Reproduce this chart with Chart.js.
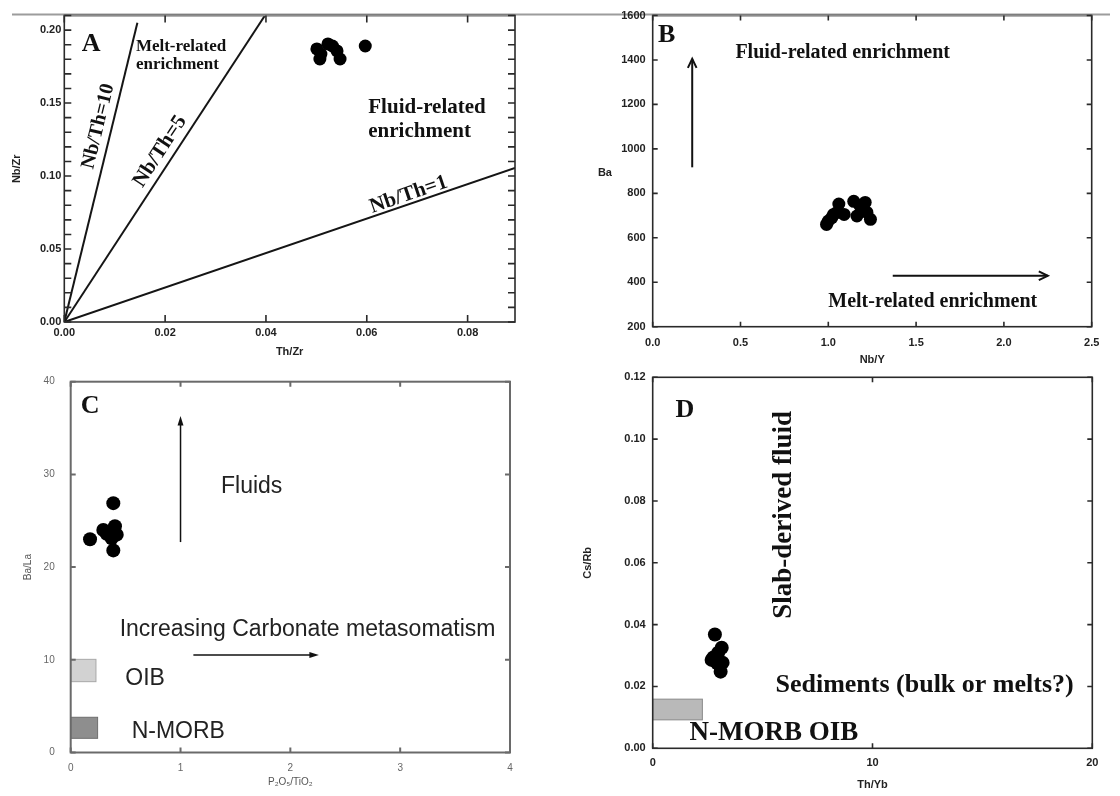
<!DOCTYPE html>
<html>
<head>
<meta charset="utf-8">
<title>Trace element enrichment diagrams</title>
<script src="https://cdn.jsdelivr.net/npm/chart.js@4.4.1/dist/chart.umd.min.js"></script>
<style>
  html, body { margin: 0; padding: 0; background: #fff; }
  #wrap { position: relative; width: 1120px; height: 796px; overflow: hidden; background: #fff; }
  canvas { position: absolute; display: block; }
</style>
</head>
<body>
<div id="wrap">
  <canvas id="chartA" width="560" height="370" style="left:0;top:0"></canvas>
  <canvas id="chartB" width="560" height="370" style="left:560px;top:0"></canvas>
  <canvas id="chartC" width="560" height="426" style="left:0;top:370px"></canvas>
  <canvas id="chartD" width="560" height="426" style="left:560px;top:370px"></canvas>
</div>
<script>
// ---------- Panel A: Th/Zr vs Nb/Zr ----------
const thZr = [0.0507, 0.0547, 0.0523, 0.0501, 0.0541, 0.0509, 0.0532, 0.0597];
const nbZr = [0.1802, 0.1802, 0.1905, 0.1871, 0.1857, 0.1836, 0.1891, 0.1891];
// Nb/Th reference lines drawn from the origin to these end points
const nbThNames = ['Nb/Th=10', 'Nb/Th=5', 'Nb/Th=1'];
const nbThEndX = [0.0145, 0.0398, 0.0894];
const nbThEndY = [0.205, 0.21, 0.1055];

// ---------- Panel B: Nb/Y vs Ba ----------
const nbY = [0.99, 1.02, 1.05, 1.06, 1.03, 1.00, 1.09, 1.145, 1.163, 1.21, 1.22, 1.24, 1.18];
const ba  = [660, 691, 714, 752, 705, 675, 705, 764, 698, 759, 714, 683, 744];

// ---------- Panel C: P2O5/TiO2 vs Ba/La ----------
const p2o5TiO2 = [0.388, 0.176, 0.297, 0.403, 0.373, 0.388, 0.328, 0.419];
const baLa     = [26.9, 23.0, 24.0, 24.4, 23.1, 21.8, 23.6, 23.5];
// reference fields (x range, y range)
const fieldNamesC = ['OIB', 'N-MORB'];
const fieldXminC = [0, 0];
const fieldXmaxC = [0.23, 0.245];
const fieldYminC = [7.64, 1.53];
const fieldYmaxC = [10.05, 3.8];

// ---------- Panel D: Th/Yb vs Cs/Rb ----------
const thYb = [2.83, 3.14, 2.76, 2.94, 3.09, 3.18, 2.98, 2.68];
const csRb = [0.0368, 0.0325, 0.0294, 0.0275, 0.0248, 0.0277, 0.0309, 0.0286];
const fieldXminD = [0];
const fieldXmaxD = [2.26];
const fieldYminD = [0.0092];
const fieldYmaxD = [0.0159];

const SANS = '"Liberation Sans", Arial, sans-serif';
const SERIF = '"Liberation Serif", "Times New Roman", serif';

const zip = (xs, ys) => xs.map((x, i) => ({ x, y: ys[i] }));

// Fixed axis thickness so that every plot area lands at a set place
function fixedAxis(size) {
  return function (scale) {
    if (scale.isHorizontal()) scale.height = size; else scale.width = size;
    scale.paddingLeft = scale.paddingRight = scale.paddingTop = scale.paddingBottom = 0;
  };
}

// Frame, inward tick marks, reference boxes, arrows and annotations
const decorPlugin = {
  id: 'decor',
  beforeDraw(chart, args, opts) {
    // rule along the top edge of the page, under the tick labels
    if (opts.rule) {
      const ctx = chart.ctx;
      ctx.save();
      ctx.strokeStyle = opts.rule.color;
      ctx.lineWidth = opts.rule.width;
      ctx.beginPath();
      ctx.moveTo(opts.rule.from, opts.rule.y);
      ctx.lineTo(opts.rule.to, opts.rule.y);
      ctx.stroke();
      ctx.restore();
    }
  },
  beforeDatasetsDraw(chart, args, opts) {
    const ctx = chart.ctx, xs = chart.scales.x, ys = chart.scales.y;
    (opts.boxes || []).forEach(b => {
      const x0 = xs.getPixelForValue(b.x0), x1 = xs.getPixelForValue(b.x1);
      const y0 = ys.getPixelForValue(b.y0), y1 = ys.getPixelForValue(b.y1);
      ctx.save();
      ctx.fillStyle = b.fill;
      ctx.strokeStyle = b.stroke;
      ctx.lineWidth = 1;
      ctx.fillRect(x0, y1, x1 - x0, y0 - y1);
      ctx.strokeRect(x0, y1, x1 - x0, y0 - y1);
      ctx.restore();
    });
  },
  afterDraw(chart, args, opts) {
    const ctx = chart.ctx, xs = chart.scales.x, ys = chart.scales.y;
    const { left, right, top, bottom } = chart.chartArea;
    ctx.save();
    // frame
    const f = opts.frame;
    ctx.strokeStyle = f.color;
    ctx.lineWidth = f.width;
    ctx.strokeRect(left, top, right - left, bottom - top);
    if (f.topColor) {
      ctx.strokeStyle = f.topColor;
      ctx.beginPath(); ctx.moveTo(left, top); ctx.lineTo(right, top); ctx.stroke();
      ctx.strokeStyle = f.color;
    }
    // tick marks pointing into the plot on all four sides
    const len = f.tick;
    ctx.beginPath();
    xs.ticks.forEach(t => {
      const px = xs.getPixelForValue(t.value);
      ctx.moveTo(px, bottom); ctx.lineTo(px, bottom - len);
      ctx.moveTo(px, top); ctx.lineTo(px, top + len);
    });
    const yVals = [];
    if (f.minorY) {
      const n = Math.round((ys.max - ys.min) / f.minorY);
      for (let i = 0; i <= n; i++) yVals.push(ys.min + i * f.minorY);
    } else {
      ys.ticks.forEach(t => yVals.push(t.value));
    }
    yVals.forEach(v => {
      const py = ys.getPixelForValue(v);
      if (py < top - 0.5) return;
      ctx.moveTo(left, py); ctx.lineTo(left + len, py);
      ctx.moveTo(right, py); ctx.lineTo(right - len, py);
    });
    ctx.stroke();
    // arrows
    (opts.arrows || []).forEach(a => {
      const x0 = xs.getPixelForValue(a.x0), y0 = ys.getPixelForValue(a.y0);
      const x1 = xs.getPixelForValue(a.x1), y1 = ys.getPixelForValue(a.y1);
      const ang = Math.atan2(y1 - y0, x1 - x0);
      ctx.strokeStyle = a.color; ctx.fillStyle = a.color;
      ctx.lineWidth = a.width;
      ctx.beginPath();
      ctx.moveTo(x0, y0);
      ctx.lineTo(x1 - (a.filled ? Math.cos(ang) * a.head * 0.8 : 0), y1 - (a.filled ? Math.sin(ang) * a.head * 0.8 : 0));
      ctx.stroke();
      const hx1 = x1 - a.head * Math.cos(ang - a.spread), hy1 = y1 - a.head * Math.sin(ang - a.spread);
      const hx2 = x1 - a.head * Math.cos(ang + a.spread), hy2 = y1 - a.head * Math.sin(ang + a.spread);
      ctx.beginPath();
      if (a.filled) {
        ctx.moveTo(x1, y1); ctx.lineTo(hx1, hy1); ctx.lineTo(hx2, hy2); ctx.closePath(); ctx.fill();
      } else {
        ctx.moveTo(hx1, hy1); ctx.lineTo(x1, y1); ctx.lineTo(hx2, hy2); ctx.stroke();
      }
    });
    // text annotations
    (opts.texts || []).forEach(t => {
      const px = xs.getPixelForValue(t.x), py = ys.getPixelForValue(t.y);
      let rot = (t.rotation || 0) * Math.PI / 180;
      if (t.alongLine !== undefined) {
        const d = chart.data.datasets[t.alongLine].data;
        const ax = xs.getPixelForValue(d[0].x), ay = ys.getPixelForValue(d[0].y);
        const bx = xs.getPixelForValue(d[1].x), by = ys.getPixelForValue(d[1].y);
        rot = Math.atan2(by - ay, bx - ax);
      }
      ctx.save();
      ctx.translate(px, py);
      ctx.rotate(rot);
      ctx.font = t.font;
      ctx.fillStyle = t.color || '#111';
      ctx.textAlign = t.align || 'center';
      ctx.textBaseline = 'middle';
      ctx.fillText(t.text, 0, 0);
      ctx.restore();
    });
    ctx.restore();
  }
};
Chart.register(decorPlugin);

function baseOptions(cfg) {
  return {
    responsive: false,
    animation: false,
    events: [],
    layout: { padding: cfg.padding },
    plugins: { legend: { display: false }, tooltip: { enabled: false }, decor: cfg.decor },
    scales: {
      x: {
        type: 'linear', position: 'bottom',
        min: cfg.x.min, max: cfg.x.max,
        border: { display: false },
        grid: { display: false, drawTicks: false },
        ticks: {
          stepSize: cfg.x.step, includeBounds: false, padding: cfg.x.pad,
          color: cfg.tickColor, font: cfg.tickFont,
          maxRotation: 0, autoSkip: false,
          callback: v => v.toFixed(cfg.x.dec)
        },
        title: cfg.x.title ? {
          display: true, text: cfg.x.title, color: cfg.titleColor, font: cfg.titleFont,
          padding: { top: 0, bottom: cfg.x.titlePad }
        } : { display: false },
        afterFit: fixedAxis(cfg.x.size)
      },
      y: {
        type: 'linear', position: 'left',
        min: cfg.y.min, max: cfg.y.max,
        border: { display: false },
        grid: { display: false, drawTicks: false },
        ticks: {
          stepSize: cfg.y.step, includeBounds: false, padding: cfg.y.pad,
          color: cfg.tickColor, font: cfg.tickFont, autoSkip: false,
          callback: v => v.toFixed(cfg.y.dec)
        },
        title: cfg.y.title ? {
          display: true, text: cfg.y.title, color: cfg.titleColor, font: cfg.titleFont,
          padding: { top: cfg.y.titlePad, bottom: 0 }
        } : { display: false },
        afterFit: fixedAxis(cfg.y.size)
      }
    }
  };
}

function scatterSet(xs, ys, r) {
  return {
    type: 'scatter', data: zip(xs, ys),
    backgroundColor: '#000', borderColor: '#000', borderWidth: 0,
    pointRadius: r, pointHoverRadius: r
  };
}

const boldTick = { family: SANS, size: 11, weight: 'bold' };

// ----- Chart A -----
const lineSetsA = nbThNames.map((name, i) => ({
  type: 'line', label: name,
  data: [{ x: 0, y: 0 }, { x: nbThEndX[i], y: nbThEndY[i] }],
  borderColor: '#151515', borderWidth: 2, pointRadius: 0, fill: false
}));
new Chart(document.getElementById('chartA'), {
  data: { datasets: [...lineSetsA, scatterSet(thZr, nbZr, 6.5)] },
  options: baseOptions({
    padding: { left: 0, right: 45, top: 15.5, bottom: 0 },
    tickColor: '#222', tickFont: boldTick, titleColor: '#222',
    titleFont: { family: SANS, size: 11, weight: 'bold' },
    x: { min: 0, max: 0.0894, step: 0.02, dec: 2, pad: 4.5, size: 48, title: 'Th/Zr', titlePad: 11.5 },
    y: { min: 0, max: 0.21, step: 0.05, dec: 2, pad: 3, size: 64.3, title: 'Nb/Zr', titlePad: 10 },
    decor: {
      frame: { color: '#2a2a2a', topColor: '#8c8c8c', width: 1.6, tick: 7, minorY: 0.01 },
      rule: { color: '#9c9c9c', width: 2, y: 14.5, from: 12, to: 560 },
      texts: [
        { text: 'A', x: 0.0053, y: 0.190, font: `bold 26px ${SERIF}` },
        { text: 'Melt-related', x: 0.0142, y: 0.1890, align: 'left', font: `bold 17px ${SERIF}` },
        { text: 'enrichment', x: 0.0142, y: 0.1764, align: 'left', font: `bold 17px ${SERIF}` },
        { text: 'Fluid-related', x: 0.0603, y: 0.1467, align: 'left', font: `bold 21px ${SERIF}` },
        { text: 'enrichment', x: 0.0603, y: 0.1307, align: 'left', font: `bold 21px ${SERIF}` },
        { text: nbThNames[0], x: 0.00675, y: 0.1341, alongLine: 0, font: `bold 20px ${SERIF}` },
        { text: nbThNames[1], x: 0.0190, y: 0.1169, alongLine: 1, font: `bold 21px ${SERIF}` },
        { text: nbThNames[2], x: 0.0683, y: 0.0872, alongLine: 2, font: `bold 21px ${SERIF}` }
      ]
    }
  })
});

// ----- Chart B -----
new Chart(document.getElementById('chartB'), {
  data: { datasets: [scatterSet(nbY, ba, 6.5)] },
  options: baseOptions({
    padding: { left: 0, right: 28.3, top: 15.5, bottom: 0 },
    tickColor: '#222', tickFont: boldTick, titleColor: '#222',
    titleFont: { family: SANS, size: 11, weight: 'bold' },
    x: { min: 0, max: 2.5, step: 0.5, dec: 1, pad: 9.5, size: 43.3, title: 'Nb/Y', titlePad: 3.4 },
    y: { min: 200, max: 1600, step: 200, dec: 0, pad: 7, size: 92.7, title: null },
    decor: {
      frame: { color: '#2a2a2a', topColor: '#8c8c8c', width: 1.6, tick: 5 },
      rule: { color: '#9c9c9c', width: 2, y: 14.5, from: 0, to: 550 },
      arrows: [
        { x0: 0.225, y0: 917, x1: 0.225, y1: 1405, color: '#111', width: 2, head: 10, spread: 0.45, filled: false },
        { x0: 1.367, y0: 429, x1: 2.25, y1: 429, color: '#111', width: 2, head: 10, spread: 0.45, filled: false }
      ],
      texts: [
        { text: 'Ba', x: -0.272, y: 890, font: `bold 11px ${SANS}`, color: '#222' },
        { text: 'B', x: 0.0797, y: 1512, font: `bold 26px ${SERIF}` },
        { text: 'Fluid-related enrichment', x: 1.082, y: 1432, font: `bold 20px ${SERIF}` },
        { text: 'Melt-related enrichment', x: 1.595, y: 313, font: `bold 20px ${SERIF}` }
      ]
    }
  })
});

// ----- Chart C -----
new Chart(document.getElementById('chartC'), {
  data: { datasets: [scatterSet(p2o5TiO2, baLa, 7)] },
  options: baseOptions({
    padding: { left: 0, right: 50, top: 11.7, bottom: 0 },
    tickColor: '#666', tickFont: { family: SANS, size: 10 }, titleColor: '#555',
    titleFont: { family: SANS, size: 10 },
    x: { min: 0, max: 4, step: 1, dec: 0, pad: 9.5, size: 43.5, title: 'P\u2082O\u2085/TiO\u2082', titlePad: 8 },
    y: { min: 0, max: 40, step: 10, dec: 0, pad: 16, size: 70.7, title: 'Ba/La', titlePad: 22 },
    decor: {
      frame: { color: '#6a6a6a', width: 2, tick: 5 },
      boxes: fieldNamesC.map((n, i) => ({
        x0: fieldXminC[i], x1: fieldXmaxC[i], y0: fieldYminC[i], y1: fieldYmaxC[i],
        fill: i === 0 ? '#d2d2d2' : '#8e8e8e', stroke: i === 0 ? '#a8a8a8' : '#6e6e6e'
      })),
      arrows: [
        { x0: 1.0, y0: 22.7, x1: 1.0, y1: 36.3, color: '#111', width: 1.5, head: 10, spread: 0.3, filled: true },
        { x0: 1.117, y0: 10.52, x1: 2.26, y1: 10.52, color: '#111', width: 1.5, head: 10, spread: 0.3, filled: true }
      ],
      texts: [
        { text: 'C', x: 0.176, y: 37.3, font: `bold 26px ${SERIF}` },
        { text: 'Fluids', x: 1.648, y: 28.67, font: `23px ${SANS}`, color: '#222' },
        { text: 'Increasing Carbonate metasomatism', x: 2.157, y: 13.2, font: `23px ${SANS}`, color: '#222' },
        { text: fieldNamesC[0], x: 0.677, y: 8.0, font: `23px ${SANS}`, color: '#222' },
        { text: fieldNamesC[1], x: 0.98, y: 2.24, font: `23px ${SANS}`, color: '#222' }
      ]
    }
  })
});

// ----- Chart D -----
new Chart(document.getElementById('chartD'), {
  data: { datasets: [scatterSet(thYb, csRb, 7)] },
  options: baseOptions({
    padding: { left: 0, right: 27.7, top: 7.3, bottom: 0 },
    tickColor: '#222', tickFont: boldTick, titleColor: '#222',
    titleFont: { family: SANS, size: 11, weight: 'bold' },
    x: { min: 0, max: 20, step: 10, dec: 0, pad: 8, size: 47.7, title: 'Th/Yb', titlePad: 4.4 },
    y: { min: 0, max: 0.12, step: 0.02, dec: 2, pad: 7, size: 92.7, title: 'Cs/Rb', titlePad: 21.7 },
    decor: {
      frame: { color: '#2a2a2a', width: 1.6, tick: 5 },
      boxes: fieldXminD.map((v, i) => ({
        x0: fieldXminD[i], x1: fieldXmaxD[i], y0: fieldYminD[i], y1: fieldYmaxD[i],
        fill: '#b9b9b9', stroke: '#8a8a8a'
      })),
      texts: [
        { text: 'D', x: 1.47, y: 0.1094, font: `bold 26px ${SERIF}` },
        { text: 'Slab-derived fluid', x: 5.97, y: 0.0755, rotation: -90, font: `bold 27px ${SERIF}` },
        { text: 'Sediments (bulk or melts?)', x: 12.37, y: 0.0205, font: `bold 26px ${SERIF}` },
        { text: 'N-MORB OIB', x: 5.51, y: 0.00485, font: `bold 27px ${SERIF}` }
      ]
    }
  })
});
</script>
</body>
</html>
